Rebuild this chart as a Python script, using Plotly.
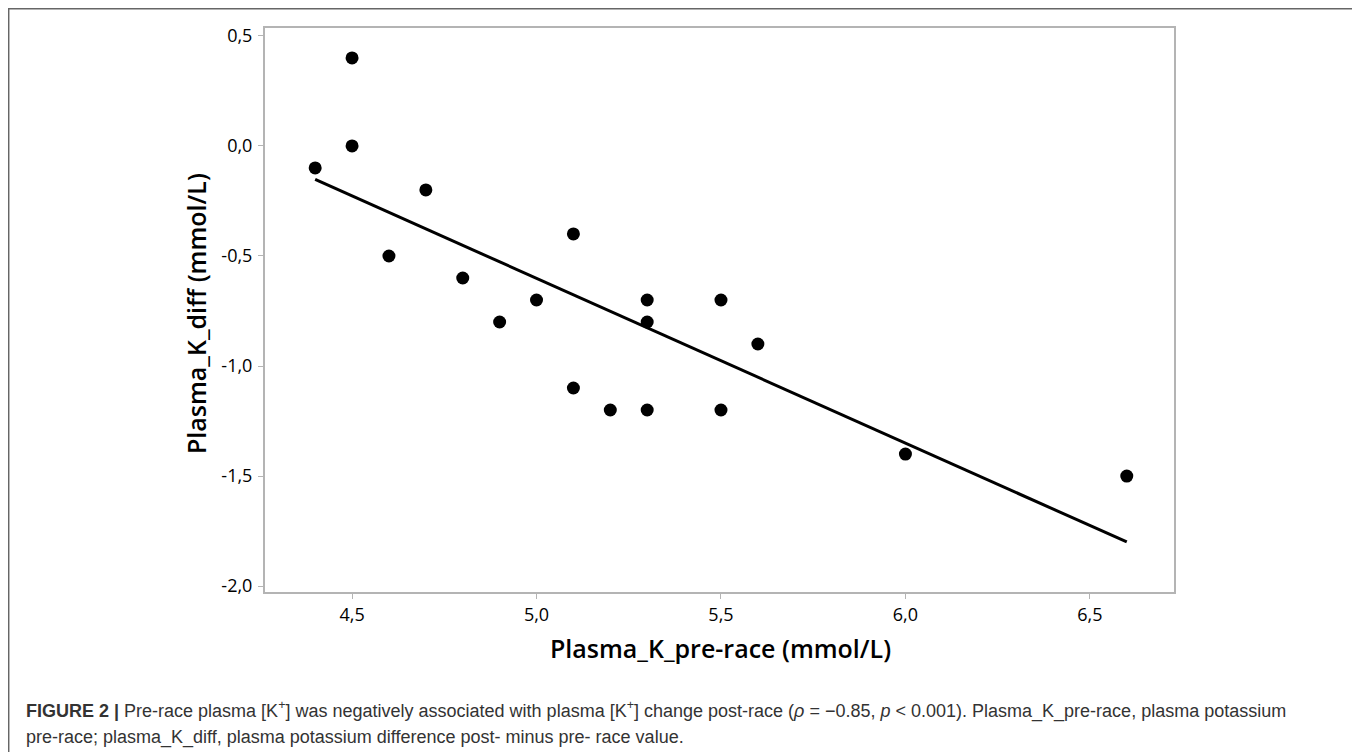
import numpy as np
import plotly.graph_objects as go

# Data
k_pre = [4.4, 4.5, 4.5, 4.6, 4.7, 4.8, 4.9, 5.0, 5.1, 5.1, 5.2, 5.3, 5.3, 5.3, 5.5, 5.5, 5.6, 6.0, 6.6]
k_diff = [-0.1, 0.4, 0.0, -0.5, -0.2, -0.6, -0.8, -0.7, -0.4, -1.1, -1.2, -0.7, -0.8, -1.2, -0.7, -1.2, -0.9, -1.4, -1.5]

x_ticks = [4.5, 5.0, 5.5, 6.0, 6.5]
x_tick_labels = ["4,5", "5,0", "5,5", "6,0", "6,5"]
y_ticks = [0.5, 0.0, -0.5, -1.0, -1.5, -2.0]
y_tick_labels = ["0,5", "0,0", "-0,5", "-1,0", "-1,5", "-2,0"]

# least-squares fit line
slope, intercept = np.polyfit(k_pre, k_diff, 1)
fit_x = [min(k_pre), max(k_pre)]
fit_y = [slope * v + intercept for v in fit_x]

# page has an 8px body margin; work in screen pixels and convert
OFF = 8
W, H = 1352, 744
L, R, T, B = 265 - OFF, 186, 28 - OFF, 160
pw, ph = W - L - R, H - T - B

def px_x(p):  # screen px -> paper x
    return (p - OFF - L) / pw

def px_y(p):  # screen px -> paper y
    return (H - B - (p - OFF)) / ph

fig = go.Figure()
fig.add_trace(go.Scatter(x=fit_x, y=fit_y, mode="lines",
                         line=dict(color="black", width=3), showlegend=False))
fig.add_trace(go.Scatter(x=k_pre, y=k_diff, mode="markers",
                         marker=dict(color="black", size=13), showlegend=False))

axis_font = dict(family="Open Sans, Noto Sans, sans-serif", size=18, color="black")
common = dict(showgrid=False, zeroline=False, showline=True, mirror=True,
              linecolor="#b4b4b4", linewidth=2, ticks="outside", ticklen=5,
              tickcolor="#b4b4b4", tickwidth=1, tickfont=axis_font)
fig.update_xaxes(range=[4.264, 6.728], tickvals=x_ticks, ticktext=x_tick_labels, **common)
fig.update_yaxes(range=[-2.027, 0.536], tickvals=y_ticks, ticktext=y_tick_labels,
                 ticklabelstandoff=2, **common)

title_font = dict(family="Open Sans, Noto Sans, sans-serif", size=25, color="black", weight=600)
fig.add_annotation(xref="paper", yref="paper", x=px_x(720), y=px_y(648),
                   xanchor="center", yanchor="middle", showarrow=False,
                   font=title_font, text="Plasma_K_pre-race (mmol/L)")
fig.add_annotation(xref="paper", yref="paper", x=px_x(196), y=px_y(314),
                   xanchor="center", yanchor="middle", showarrow=False, textangle=-90,
                   font=title_font, text="Plasma_K_diff (mmol/L)")

caption_font = dict(family="Liberation Sans, Arial, sans-serif", size=18, color="#333333")
fig.add_annotation(xref="paper", yref="paper", x=px_x(24), y=px_y(710),
                   xanchor="left", yanchor="middle", showarrow=False, align="left",
                   font=caption_font,
                   text="<b>FIGURE 2 |</b> Pre-race plasma [K<sup>+</sup>] was negatively associated with plasma [K<sup>+</sup>] change post-race (<i>ρ</i> = −0.85, <i>p</i> &lt; 0.001). Plasma_K_pre-race, plasma potassium")
fig.add_annotation(xref="paper", yref="paper", x=px_x(24), y=px_y(738),
                   xanchor="left", yanchor="middle", showarrow=False, align="left",
                   font=caption_font,
                   text="pre-race; plasma_K_diff, plasma potassium difference post- minus pre- race value.")

# outer frame
fig.add_shape(type="rect", xref="paper", yref="paper",
              x0=px_x(8.7), x1=px_x(1355.5), y0=px_y(790), y1=px_y(8.7),
              line=dict(color="#666666", width=1.5), fillcolor="rgba(0,0,0,0)", layer="below")

fig.update_layout(width=W, height=H, margin=dict(l=L, r=R, t=T, b=B),
                  paper_bgcolor="white", plot_bgcolor="white")
fig.write_html("out.html")
